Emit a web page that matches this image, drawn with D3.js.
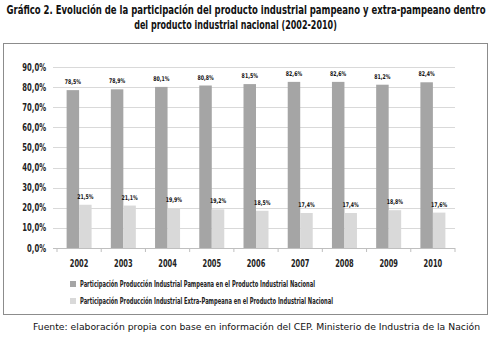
<!DOCTYPE html>
<html>
<head>
<meta charset="utf-8">
<script src="https://cdn.jsdelivr.net/npm/d3@7"></script>
<style>
  body { margin: 0; background: #fff; }
  svg { display: block; }
</style>
</head>
<body>
<div id="chart"></div>
<script>
// data
const years = ["2002", "2003", "2004", "2005", "2006", "2007", "2008", "2009", "2010"];
const pampeana = [78.5, 78.9, 80.1, 80.8, 81.5, 82.6, 82.6, 81.2, 82.4];
const extraPampeana = [21.5, 21.1, 19.9, 19.2, 18.5, 17.4, 17.4, 18.8, 17.6];
const seriesNames = [
  "Participación Producción Industrial Pampeana en el Producto Industrial Nacional",
  "Participación Producción Industrial Extra-Pampeana en el Producto Industrial Nacional"
];
const yTicks = [0, 10, 20, 30, 40, 50, 60, 70, 80, 90];
const titleLines = [
  "Gráfico 2. Evolución de la participación del producto industrial pampeano y extra-pampeano dentro",
  "del producto industrial nacional (2002-2010)"
];

const width = 493, height = 337;
const narrow = "'DejaVu Sans Condensed', 'Liberation Sans Narrow', sans-serif";
const colors = ["#a5a5a5", "#d9d9d9"];

// squeeze text horizontally, the original uses a very condensed face
function condense(sel, factor) {
  sel.each(function() {
    const w = this.getComputedTextLength();
    d3.select(this).attr("textLength", w * factor).attr("lengthAdjust", "spacingAndGlyphs");
  });
}

const svg = d3.select("#chart").append("svg")
    .attr("width", width)
    .attr("height", height);

// title: scaled with a transform so the box really fits
const titleWidths = [480, 203];
svg.append("g").selectAll("text")
    .data(titleLines)
    .join("text")
    .attr("text-anchor", "middle")
    .style("font-family", narrow).style("font-weight", "bold").style("font-size", "11.5px")
    .attr("fill", "#111")
    .text(d => d)
    .each(function(d, i) {
      const k = titleWidths[i] / this.getComputedTextLength();
      d3.select(this).attr("transform", `translate(${i ? 235.5 : 246},${i ? 29 : 14}) scale(${k},1)`);
    });

// frame
svg.append("rect")
    .attr("x", 3.5).attr("y", 43.5)
    .attr("width", 484).attr("height", 271)
    .attr("fill", "none").attr("stroke", "#8c8c8c");

// scales
const x0 = d3.scaleBand().domain(years).range([57, 455]).paddingInner(0).paddingOuter(0);
const x1 = d3.scaleBand().domain([0, 1]).range([x0.bandwidth() / 2 - 12.5, x0.bandwidth() / 2 + 12.5]);
const y = d3.scaleLinear().domain([0, 90]).range([248, 67]);

// gridlines
svg.append("g").selectAll("line")
    .data(yTicks.slice(1))
    .join("line")
    .attr("x1", 53).attr("x2", 455)
    .attr("y1", d => Math.round(y(d)) + 0.5).attr("y2", d => Math.round(y(d)) + 0.5)
    .attr("stroke", "#d9d9d9");

const fmt = v => d3.format(".1f")(v).replace(".", ",") + "%";

// y labels
svg.append("g").selectAll("text")
    .data(yTicks)
    .join("text")
    .attr("x", 46).attr("y", d => y(d) + 3.5)
    .attr("text-anchor", "end")
    .style("font-family", narrow).style("font-weight", "bold").style("font-size", "10px")
    .attr("fill", "#222")
    .text(d => fmt(d))
    .call(condense, 0.76);

// bars
const groups = svg.append("g").selectAll("g")
    .data(years.map((yr, i) => ({yr, vals: [pampeana[i], extraPampeana[i]]})))
    .join("g")
    .attr("transform", d => `translate(${x0(d.yr)},0)`);

groups.selectAll("rect")
    .data(d => d.vals.map((v, k) => ({k, v})))
    .join("rect")
    .attr("x", d => x1(d.k))
    .attr("width", x1.bandwidth())
    .attr("y", d => y(d.v))
    .attr("height", d => y(0) - y(d.v))
    .attr("fill", d => colors[d.k]);

groups.selectAll("text")
    .data(d => d.vals.map((v, k) => ({k, v})))
    .join("text")
    .attr("x", d => x1(d.k) + x1.bandwidth() / 2)
    .attr("y", d => y(d.v) - 6)
    .attr("text-anchor", "middle")
    .style("font-family", narrow).style("font-weight", "bold").style("font-size", "6.5px")
    .attr("fill", "#111")
    .text(d => fmt(d.v))
    .call(condense, 0.8);

// x axis
const xAxis = svg.append("g")
    .attr("transform", `translate(0,${y(0)})`)
    .call(d3.axisBottom(x0).tickSize(0).tickPadding(12));
xAxis.select(".domain").attr("stroke", "#bfbfbf").attr("d", `M53,0.5H455`);
xAxis.selectAll("text")
    .style("font-family", narrow).style("font-weight", "bold").style("font-size", "10px")
    .attr("fill", "#222")
    .call(condense, 0.74);
xAxis.append("g").selectAll("line")
    .data(d3.range(years.length + 1))
    .join("line")
    .attr("x1", i => x0.range()[0] + i * x0.step())
    .attr("x2", i => x0.range()[0] + i * x0.step())
    .attr("y1", 0).attr("y2", 4)
    .attr("stroke", "#bfbfbf");

// legend
const legendLen = [235, 253];
const legend = svg.append("g").selectAll("g")
    .data(seriesNames)
    .join("g")
    .attr("transform", (d, i) => `translate(70,${284 + i * 17})`);
legend.append("rect")
    .attr("x", 0).attr("y", -3).attr("width", 6).attr("height", 6)
    .attr("fill", (d, i) => colors[i]);
legend.append("text")
    .attr("x", 10).attr("y", 3)
    .attr("textLength", (d, i) => legendLen[i]).attr("lengthAdjust", "spacingAndGlyphs")
    .style("font-family", narrow).style("font-weight", "bold").style("font-size", "8px")
    .attr("fill", "#222")
    .text(d => d);

// source
svg.append("text")
    .attr("x", 33).attr("y", 330)
    .attr("textLength", 447).attr("lengthAdjust", "spacingAndGlyphs")
    .style("font-family", "'DejaVu Sans', sans-serif").style("font-size", "9.5px")
    .attr("fill", "#111")
    .text("Fuente: elaboración propia con base en información del CEP. Ministerio de Industria de la Nación");
</script>
</body>
</html>
